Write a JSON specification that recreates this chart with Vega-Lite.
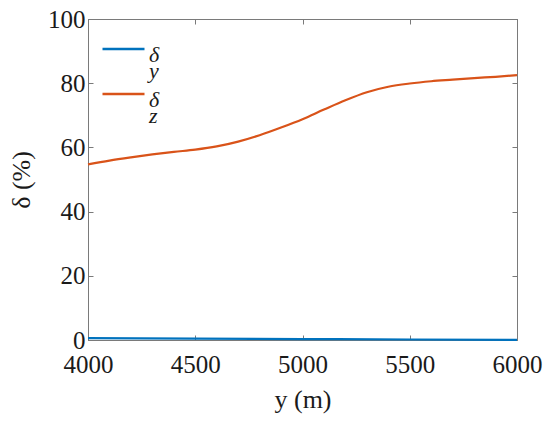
{
  "$schema": "https://vega.github.io/schema/vega-lite/v6.json",
  "autosize": "none",
  "padding": {"left": 88, "top": 19, "right": 33, "bottom": 85},
  "width": 429,
  "height": 321,
  "background": "white",
  "config": {
    "font": "Liberation Serif",
    "view": {"stroke": "#7a7a7a", "strokeWidth": 1},
    "axis": {
      "grid": false,
      "domainColor": "#7a7a7a",
      "tickColor": "#7a7a7a",
      "tickSize": -5,
      "labelFont": "Liberation Serif",
      "labelFontSize": 25,
      "labelColor": "#1a1a1a",
      "titleFont": "Liberation Serif",
      "titleFontSize": 26,
      "titleFontWeight": "normal",
      "titleColor": "#1a1a1a"
    }
  },
  "data": {
    "values": [
      {"y": 4000, "delta": 0.6, "series": "δy"},
      {"y": 4500, "delta": 0.45, "series": "δy"},
      {"y": 5000, "delta": 0.3, "series": "δy"},
      {"y": 5500, "delta": 0.15, "series": "δy"},
      {"y": 6000, "delta": 0.05, "series": "δy"},
      {"y": 4000, "delta": 54.7, "series": "δz"},
      {"y": 4100, "delta": 55.9, "series": "δz"},
      {"y": 4200, "delta": 56.9, "series": "δz"},
      {"y": 4300, "delta": 57.8, "series": "δz"},
      {"y": 4400, "delta": 58.6, "series": "δz"},
      {"y": 4500, "delta": 59.3, "series": "δz"},
      {"y": 4600, "delta": 60.3, "series": "δz"},
      {"y": 4700, "delta": 61.8, "series": "δz"},
      {"y": 4800, "delta": 63.8, "series": "δz"},
      {"y": 4900, "delta": 66.2, "series": "δz"},
      {"y": 5000, "delta": 68.8, "series": "δz"},
      {"y": 5100, "delta": 71.8, "series": "δz"},
      {"y": 5200, "delta": 74.7, "series": "δz"},
      {"y": 5300, "delta": 77.2, "series": "δz"},
      {"y": 5400, "delta": 78.9, "series": "δz"},
      {"y": 5500, "delta": 79.9, "series": "δz"},
      {"y": 5600, "delta": 80.6, "series": "δz"},
      {"y": 5700, "delta": 81.1, "series": "δz"},
      {"y": 5800, "delta": 81.6, "series": "δz"},
      {"y": 5900, "delta": 82.0, "series": "δz"},
      {"y": 6000, "delta": 82.5, "series": "δz"}
    ]
  },
  "layer": [
    {
      "mark": {"type": "line", "strokeWidth": 2.2, "interpolate": "monotone"},
      "encoding": {
        "x": {
          "field": "y",
          "type": "quantitative",
          "scale": {"domain": [4000, 6000], "nice": false, "zero": false},
          "axis": {"values": [4000, 4500, 5000, 5500, 6000], "format": "d", "labelPadding": 17, "titlePadding": 9, "labelFlush": false},
          "title": "y (m)"
        },
        "y": {
          "field": "delta",
          "type": "quantitative",
          "scale": {"domain": [0, 100], "nice": false},
          "axis": {"values": [0, 20, 40, 60, 80, 100], "format": "d", "labelPadding": 8, "titlePadding": 13},
          "title": "δ (%)"
        },
        "color": {
          "field": "series",
          "type": "nominal",
          "scale": {"domain": ["δy", "δz"], "range": ["#0072BD", "#D95319"]},
          "legend": {
            "title": null,
            "orient": "none",
            "legendX": 13,
            "legendY": 18,
            "symbolType": "M-1,0H3",
            "symbolSize": 441,
            "symbolStrokeWidth": 2.5,
            "labelFont": "Liberation Serif",
            "labelFontSize": 22,
            "labelFontStyle": "italic",
            "labelColor": "#1a1a1a",
            "labelBaseline": "middle",
            "labelOffset": 24,
            "rowPadding": -7,
            "labelExpr": "[substring(datum.label, 0, 1), '\u00a0\u00a0' + substring(datum.label, 1)]",
            "encode": {"labels": {"update": {"lineHeight": {"value": 16}, "dy": {"value": 6}}}}
          }
        }
      }
    },
    {
      "mark": {"type": "point", "opacity": 0},
      "encoding": {
        "x": {
          "field": "y",
          "type": "quantitative",
          "scale": {"domain": [4000, 6000], "nice": false, "zero": false},
          "axis": {"orient": "top", "values": [4000, 4500, 5000, 5500, 6000], "labels": false, "title": null}
        },
        "y": {
          "field": "delta",
          "type": "quantitative",
          "scale": {"domain": [0, 100], "nice": false},
          "axis": {"orient": "right", "values": [0, 20, 40, 60, 80, 100], "labels": false, "title": null}
        }
      }
    }
  ],
  "resolve": {"axis": {"x": "independent", "y": "independent"}}
}
